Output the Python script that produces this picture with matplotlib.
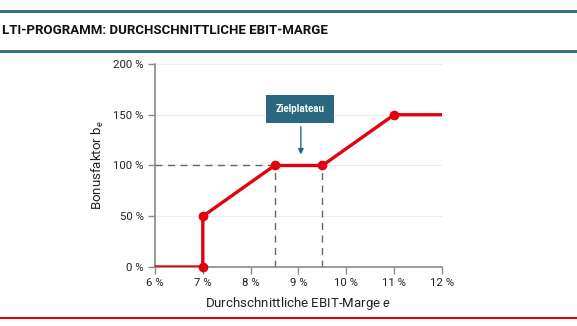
import numpy as np
import matplotlib
matplotlib.use("Agg")
import matplotlib.pyplot as plt
from matplotlib.lines import Line2D
from matplotlib.patches import Rectangle

plt.rcParams["font.family"] = ["Roboto", "DejaVu Sans"]
plt.rcParams["mathtext.fontset"] = "custom"
plt.rcParams["mathtext.it"] = "Roboto:italic"
plt.rcParams["mathtext.rm"] = "Roboto"

# data
x_line = [6, 7, 7, 8.5, 9.5, 11, 12]
y_line = [0, 0, 50, 100, 100, 150, 150]
x_pts = [7, 7, 8.5, 9.5, 11]
y_pts = [0, 50, 100, 100, 150]
x_ticks = [6, 7, 8, 9, 10, 11, 12]
y_ticks = [0, 50, 100, 150, 200]

red = "#e3000f"
teal = "#2a6880"
gray = "#8a8a8a"
dark = "#222222"

fig = plt.figure(figsize=(5.77, 3.26), dpi=100)
ax = fig.add_axes([0.2686, 0.181, 0.4974, 0.6227])

for y in y_ticks[1:]:
    ax.axhline(y, color="#ececec", lw=0.8, zorder=0)

dash = (0, (5, 4))
ax.plot([6, 8.5], [100, 100], ls=dash, color="#666666", lw=1, zorder=1)
ax.plot([8.5, 8.5], [0, 100], ls=dash, color="#666666", lw=1, zorder=1)
ax.plot([9.5, 9.5], [0, 100], ls=dash, color="#666666", lw=1, zorder=1)

ax.plot(x_line, y_line, color=red, lw=2.4, zorder=3, solid_capstyle="butt")
ax.plot(x_pts, y_pts, "o", color=red, ms=6, zorder=4, clip_on=False)

ax.set_xlim(6, 12)
ax.set_ylim(0, 200)
ax.set_xticks(x_ticks)
ax.set_xticklabels([f"{t} %" for t in x_ticks])
ax.set_yticks(y_ticks)
ax.set_yticklabels([f"{t} %" for t in y_ticks])
for s in ["top", "right"]:
    ax.spines[s].set_visible(False)
for s in ["left", "bottom"]:
    ax.spines[s].set_color(gray)
    ax.spines[s].set_linewidth(1.2)
ax.tick_params(colors=gray, labelcolor=dark, labelsize=8.2, length=5, width=1, pad=3)
ax.set_xlabel("Durchschnittliche EBIT-Marge $e$", fontsize=9.5, color=dark, labelpad=5)
ax.set_ylabel("Bonusfaktor b$_e$", fontsize=9.5, color=dark, labelpad=5)

# label box with arrow
ax.add_patch(Rectangle((8.32, 142), 1.42, 27.5, fc=teal, ec="none", zorder=5))
ax.text(9.03, 155.8, "Zielplateau", ha="center", va="center", fontsize=7,
        color="white", fontweight="bold", zorder=6)
ax.annotate("", xy=(9.05, 108), xytext=(9.05, 141),
            arrowprops=dict(arrowstyle="-|>", color=teal, lw=1, mutation_scale=8))

# header / footer rules
fig.add_artist(Line2D([0.0, 1.0], [1 - 11 / 326] * 2, color=teal, lw=2))
fig.add_artist(Line2D([0.0, 1.0], [1 - 51 / 326] * 2, color=teal, lw=2))
fig.add_artist(Line2D([0.0, 1.0], [1 - 318 / 326] * 2, color=red, lw=1.5))
fig.text(0.004, 1 - 31 / 326, "LTI-PROGRAMM: DURCHSCHNITTLICHE EBIT-MARGE",
         fontsize=9.5, fontweight="bold", va="center", color="#111111")

fig.savefig("out.png", dpi=100)
